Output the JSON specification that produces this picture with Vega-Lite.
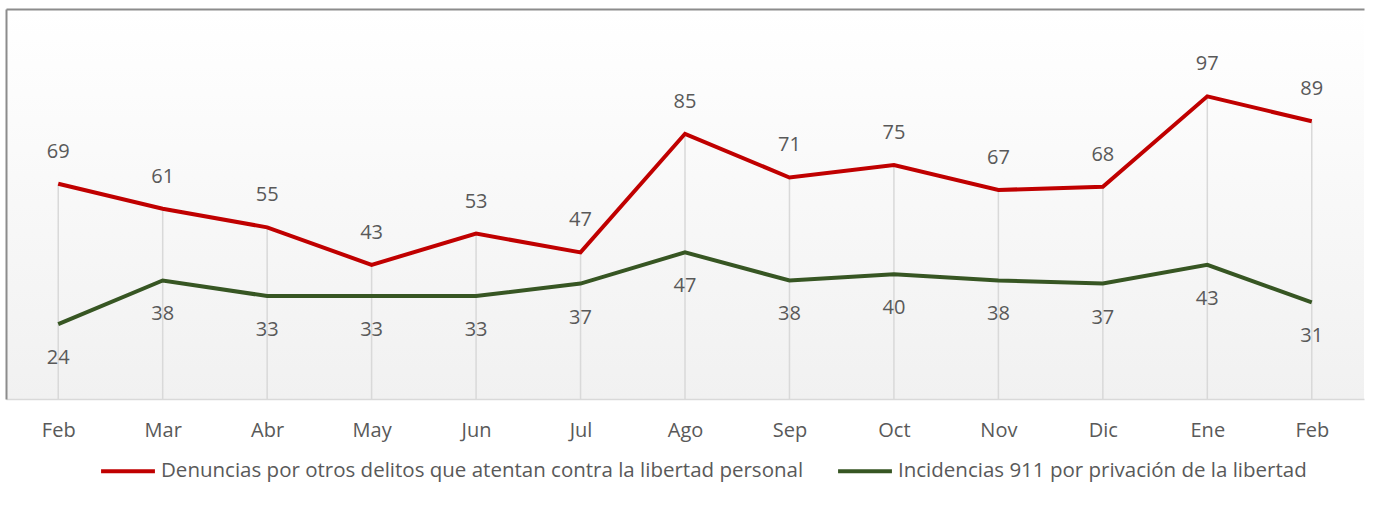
{
  "$schema": "https://vega.github.io/schema/vega-lite/v6.json",
  "width": 1358,
  "height": 390,
  "autosize": {"type": "none"},
  "padding": {"left": 6, "top": 9, "right": 33, "bottom": 107},
  "background": "#ffffff",
  "config": {
    "font": "Open Sans",
    "view": {
      "stroke": null,
      "fill": {"gradient": "linear", "x1": 0, "y1": 0, "x2": 0, "y2": 1,
        "stops": [{"offset": 0, "color": "#ffffff"}, {"offset": 1, "color": "#f1f1f1"}]}
    }
  },
  "data": {
    "values": [
      {"mes": "Feb|1", "serie": "Denuncias por otros delitos que atentan contra la libertad personal", "valor": 69},
      {"mes": "Mar", "serie": "Denuncias por otros delitos que atentan contra la libertad personal", "valor": 61},
      {"mes": "Abr", "serie": "Denuncias por otros delitos que atentan contra la libertad personal", "valor": 55},
      {"mes": "May", "serie": "Denuncias por otros delitos que atentan contra la libertad personal", "valor": 43},
      {"mes": "Jun", "serie": "Denuncias por otros delitos que atentan contra la libertad personal", "valor": 53},
      {"mes": "Jul", "serie": "Denuncias por otros delitos que atentan contra la libertad personal", "valor": 47},
      {"mes": "Ago", "serie": "Denuncias por otros delitos que atentan contra la libertad personal", "valor": 85},
      {"mes": "Sep", "serie": "Denuncias por otros delitos que atentan contra la libertad personal", "valor": 71},
      {"mes": "Oct", "serie": "Denuncias por otros delitos que atentan contra la libertad personal", "valor": 75},
      {"mes": "Nov", "serie": "Denuncias por otros delitos que atentan contra la libertad personal", "valor": 67},
      {"mes": "Dic", "serie": "Denuncias por otros delitos que atentan contra la libertad personal", "valor": 68},
      {"mes": "Ene", "serie": "Denuncias por otros delitos que atentan contra la libertad personal", "valor": 97},
      {"mes": "Feb|2", "serie": "Denuncias por otros delitos que atentan contra la libertad personal", "valor": 89},
      {"mes": "Feb|1", "serie": "Incidencias 911 por privación de la libertad", "valor": 24},
      {"mes": "Mar", "serie": "Incidencias 911 por privación de la libertad", "valor": 38},
      {"mes": "Abr", "serie": "Incidencias 911 por privación de la libertad", "valor": 33},
      {"mes": "May", "serie": "Incidencias 911 por privación de la libertad", "valor": 33},
      {"mes": "Jun", "serie": "Incidencias 911 por privación de la libertad", "valor": 33},
      {"mes": "Jul", "serie": "Incidencias 911 por privación de la libertad", "valor": 37},
      {"mes": "Ago", "serie": "Incidencias 911 por privación de la libertad", "valor": 47},
      {"mes": "Sep", "serie": "Incidencias 911 por privación de la libertad", "valor": 38},
      {"mes": "Oct", "serie": "Incidencias 911 por privación de la libertad", "valor": 40},
      {"mes": "Nov", "serie": "Incidencias 911 por privación de la libertad", "valor": 38},
      {"mes": "Dic", "serie": "Incidencias 911 por privación de la libertad", "valor": 37},
      {"mes": "Ene", "serie": "Incidencias 911 por privación de la libertad", "valor": 43},
      {"mes": "Feb|2", "serie": "Incidencias 911 por privación de la libertad", "valor": 31}
    ]
  },
  "encoding": {
    "x": {
      "field": "mes", "type": "nominal", "sort": null,
      "scale": {"type": "point", "padding": 0.5},
      "axis": {
        "title": null, "labelAngle": 0, "ticks": false, "grid": false,
        "domainColor": "#d9d9d9", "domainWidth": 1.5,
        "labelExpr": "split(datum.label, '|')[0]",
        "labelFontSize": 20, "labelColor": "#595959", "labelPadding": 21
      }
    },
    "y": {
      "field": "valor", "type": "quantitative",
      "scale": {"domain": [0, 125], "nice": false},
      "axis": {
        "title": null, "labels": false, "ticks": false, "values": [125],
        "grid": true, "gridColor": "#8c8c8c", "gridWidth": 2,
        "domainColor": "#8c8c8c", "domainWidth": 2
      }
    }
  },
  "layer": [
    {
      "transform": [{"filter": "datum.serie == 'Denuncias por otros delitos que atentan contra la libertad personal'"}],
      "mark": {"type": "rule", "color": "#d9d9d9", "strokeWidth": 1.5},
      "encoding": {"y2": {"datum": 0}}
    },
    {
      "mark": {"type": "line", "strokeWidth": 4},
      "encoding": {
        "color": {
          "field": "serie", "type": "nominal",
          "scale": {
            "domain": ["Denuncias por otros delitos que atentan contra la libertad personal", "Incidencias 911 por privación de la libertad"],
            "range": ["#c00000", "#375623"]
          },
          "legend": {
            "title": null, "orient": "none", "direction": "horizontal",
            "legendX": 93, "legendY": 433,
            "symbolType": "stroke", "symbolSize": 2900, "symbolStrokeWidth": 4,
            "labelFontSize": 20.5, "labelColor": "#595959", "labelLimit": 900,
            "columnPadding": 26
          }
        }
      }
    },
    {
      "transform": [{"filter": "datum.serie == 'Denuncias por otros delitos que atentan contra la libertad personal'"}],
      "mark": {"type": "text", "dy": -32, "fontSize": 20, "color": "#595959"},
      "encoding": {"text": {"field": "valor", "type": "quantitative"}}
    },
    {
      "transform": [{"filter": "datum.serie == 'Incidencias 911 por privación de la libertad'"}],
      "mark": {"type": "text", "dy": 34, "fontSize": 20, "color": "#595959"},
      "encoding": {"text": {"field": "valor", "type": "quantitative"}}
    }
  ]
}
